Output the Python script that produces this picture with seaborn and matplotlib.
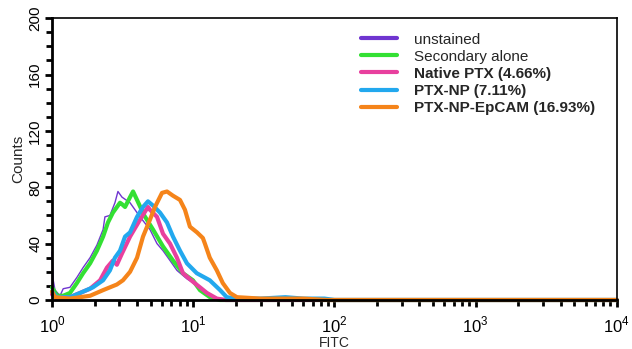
import numpy as np
import pandas as pd
import matplotlib
matplotlib.use("Agg")
import matplotlib.pyplot as plt
import seaborn as sns
from matplotlib.ticker import LogLocator, MultipleLocator, FixedLocator

# ---- data ----
labels = ["unstained", "Secondary alone", "Native PTX (4.66%)",
          "PTX-NP (7.11%)", "PTX-NP-EpCAM (16.93%)"]
colors = ["#6f35d0", "#33e033", "#e8409e", "#22a8ee", "#f5841a"]

unstained_x = [1.00, 1.02, 1.05, 1.14, 1.20, 1.34, 1.50, 1.66, 1.86, 2.08, 2.30, 2.37,
               2.57, 2.79, 2.93, 3.13, 3.57, 4.20, 4.94, 5.54, 6.11, 6.85, 7.67, 9.03,
               11.16, 12.5, 14.3, 18.0, 10000]
unstained_y = [34, 14, 7, 3, 8, 9, 16, 23, 30, 39, 50, 59,
               60, 69, 77, 73, 69, 59, 50, 40, 35, 28, 21, 15,
               9, 5, 1, 0, 0]

secondary_x = [1.00, 1.04, 1.085, 1.20, 1.34, 1.50, 1.66, 1.86, 2.08, 2.30, 2.49, 2.70,
               3.03, 3.13, 3.29, 3.57, 3.75, 4.00, 4.50, 5.19, 6.11, 7.19, 8.46, 9.95,
               11.16, 13.14, 15.46, 10000]
secondary_y = [9, 6, 3, 3, 5, 12, 19, 26, 35, 45, 55, 62,
               69, 68, 66, 73, 77, 71, 60, 50, 38, 28, 19, 14,
               7, 2, 0, 0]

native_x = [1.00, 1.085, 1.34, 1.86, 2.19, 2.45, 2.70, 2.88, 3.13, 3.57, 4.20, 4.78,
            4.94, 5.54, 6.11, 6.85, 7.67, 8.46, 9.95, 11.16, 12.5, 14.7, 17.0, 10000]
native_y = [4, 1, 2, 8, 14, 23, 28, 25, 33, 45, 57, 66,
            64, 59, 47, 40, 30, 19, 13, 9, 5, 1, 0, 0]

ptxnp_x = [1.00, 1.085, 1.34, 1.58, 1.95, 2.30, 2.57, 2.79, 3.03, 3.29, 3.57, 4.00,
           4.41, 4.78, 5.19, 5.82, 6.52, 7.19, 8.06, 9.03, 10.6, 13.1, 15.5, 17.3,
           20.0, 30.0, 45.0, 60.0, 85.0, 100.0, 10000]
ptxnp_y = [6, 2, 2, 5, 9, 14, 21, 30, 35, 45, 48, 59,
           66, 70, 67, 62, 55, 45, 35, 26, 19, 14, 7, 2,
           1, 1, 2, 1, 1, 0, 0]

epcam_x = [1.00, 1.05, 1.34, 1.58, 1.86, 2.30, 2.88, 3.18, 3.57, 4.00, 4.41, 4.94,
           5.36, 6.01, 6.52, 7.19, 8.06, 8.74, 9.48, 10.63, 11.7, 12.1, 13.1, 14.7,
           16.2, 18.2, 20.4, 30.0, 60.0, 90.0, 10000]
epcam_y = [6, 2, 1, 2, 3, 7, 11, 14, 20, 30, 45, 57,
           66, 76, 77, 74, 71, 64, 52, 48, 44, 40, 30, 21,
           12, 5, 2, 1, 1, 0, 0]

series_x = [unstained_x, secondary_x, native_x, ptxnp_x, epcam_x]
series_y = [unstained_y, secondary_y, native_y, ptxnp_y, epcam_y]
widths = [1.0, 3.0, 3.0, 3.0, 3.0]

frames = []
for lab, xs, ys in zip(labels, series_x, series_y):
    frames.append(pd.DataFrame({"FITC": xs, "Counts": ys, "sample": lab}))
df = pd.concat(frames, ignore_index=True)

sns.set_style("ticks")
plt.rcParams["font.family"] = ["Liberation Sans", "DejaVu Sans"]
plt.rcParams["mathtext.fontset"] = "custom"
plt.rcParams["mathtext.rm"] = "Liberation Sans"

fig = plt.figure(figsize=(6.32, 3.49), dpi=100)
ax = fig.add_axes([0.0823, 0.1404, 0.8937, 0.8076])

for lab, col, lw in zip(labels, colors, widths):
    sub = df[df["sample"] == lab]
    sns.lineplot(data=sub, x="FITC", y="Counts", ax=ax, color=col, lw=lw,
                 label=lab, estimator=None, sort=False, clip_on=False)

ax.set_xscale("log")
ax.set_xlim(1, 10000)
ax.set_ylim(0, 200)

ax.xaxis.set_major_locator(FixedLocator([1, 10, 100, 1000, 10000]))
ax.xaxis.set_minor_locator(LogLocator(base=10, subs=np.arange(2, 10), numticks=20))
ax.set_xticklabels([r"$10^{0}$", r"$10^{1}$", r"$10^{2}$", r"$10^{3}$", r"$10^{4}$"])
ax.yaxis.set_major_locator(MultipleLocator(40))
ax.yaxis.set_minor_locator(MultipleLocator(10))

for lab in ax.get_yticklabels():
    lab.set_rotation(90)
    lab.set_va("center")

ax.tick_params(axis="both", which="major", direction="out", length=5, width=2,
               labelsize=11, colors="black", pad=2)
ax.tick_params(axis="both", which="minor", direction="out", length=4, width=2,
               colors="black")
ax.tick_params(axis="x", which="major", labelsize=12, pad=6)

for name, sp in ax.spines.items():
    sp.set_color("black")
    sp.set_linewidth(2.0 if name in ("left", "bottom") else 1.2)

ax.set_xlabel("FITC", fontsize=10, labelpad=0)
ax.set_ylabel("Counts", fontsize=11, labelpad=2)

leg = ax.legend(loc="upper left", bbox_to_anchor=(0.537, 0.97), frameon=False,
                fontsize=11, handlelength=2.3, handletextpad=1.15, labelspacing=0.2,
                borderaxespad=0)
for i, t in enumerate(leg.get_texts()):
    if i >= 2:
        t.set_fontweight("bold")
for h in leg.get_lines():
    h.set_linewidth(3)

fig.savefig("out.png", dpi=100)
